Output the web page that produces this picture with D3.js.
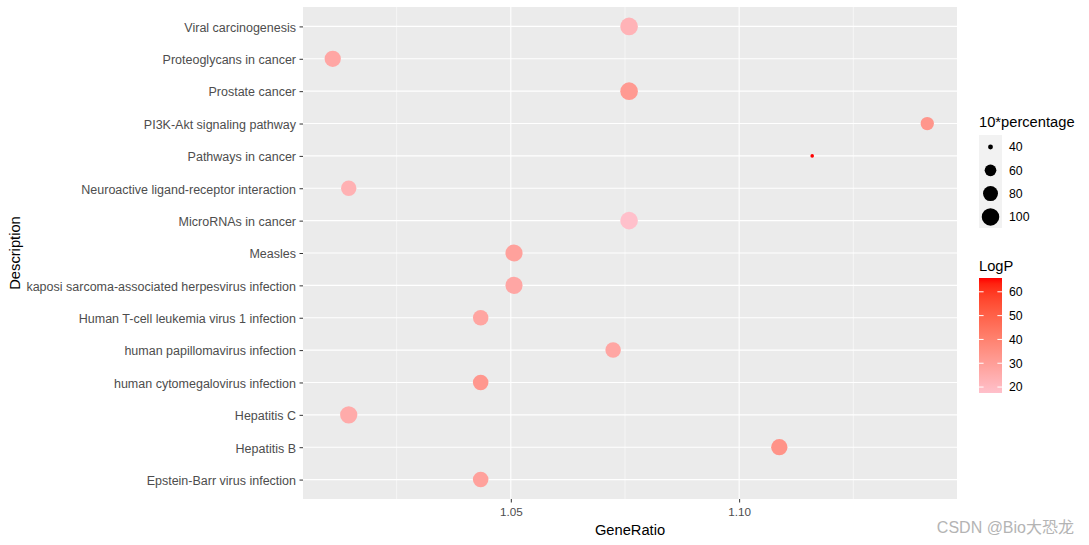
<!DOCTYPE html>
<html>
<head>
<meta charset="utf-8">
<script src="https://cdn.jsdelivr.net/npm/d3@7"></script>
<style>
    body { margin: 0; background: #fff; }
    svg { display: block; font-family: "Liberation Sans", Arial, sans-serif; }
</style>
</head>
<body>
<div id="chart"></div>
<script>
// Dados (de cima para baixo)
const descriptions = [
    'Viral carcinogenesis',
    'Proteoglycans in cancer',
    'Prostate cancer',
    'PI3K-Akt signaling pathway',
    'Pathways in cancer',
    'Neuroactive ligand-receptor interaction',
    'MicroRNAs in cancer',
    'Measles',
    'kaposi sarcoma-associated herpesvirus infection',
    'Human T-cell leukemia virus 1 infection',
    'human papillomavirus infection',
    'human cytomegalovirus infection',
    'Hepatitis C',
    'Hepatitis B',
    'Epstein-Barr virus infection'
];
const geneRatio = [1.0759, 1.0110, 1.0759, 1.1412, 1.1160, 1.0145, 1.0759, 1.0507, 1.0507, 1.0434, 1.0724, 1.0434, 1.0145, 1.1088, 1.0434];
const percentage10 = [101, 90, 101, 69, 39.5, 83, 101, 97, 97, 84, 84, 84, 98, 90, 84];
const logP = [22.3, 27, 31.5, 33, 65.8, 23.3, 17.5, 29, 27, 27.6, 27.2, 32.5, 25.5, 34, 29];

const xTicks = [1.05, 1.10];
const xMinorTicks = [1.025, 1.075, 1.125];
const sizeBreaks = [40, 60, 80, 100];
const colorBreaks = [20, 30, 40, 50, 60];

const data = descriptions.map((d, i) => ({
    desc: d, x: geneRatio[i], size: percentage10[i], logp: logP[i]
}));

const W = 1089, H = 545;
const panel = {left: 303, right: 957, top: 7, bottom: 499};

const svg = d3.select('#chart').append('svg')
    .attr('width', W).attr('height', H);

svg.append('rect').attr('width', W).attr('height', H).attr('fill', '#fff');

// Escalas
const xExt = d3.extent(geneRatio);
const pad = (xExt[1] - xExt[0]) * 0.05;
const x = d3.scaleLinear()
    .domain([xExt[0] - pad, xExt[1] + pad])
    .range([panel.left, panel.right]);

const y = d3.scalePoint()
    .domain(descriptions)
    .range([panel.top, panel.bottom])
    .padding(0.6);

const sExt = d3.extent(percentage10);
const sNorm = d3.scaleLinear().domain(sExt).range([0, 1]).clamp(true);
const rScale = d3.scaleLinear().domain([0, 1]).range([1.8, 8.8]);
const radius = v => rScale(Math.sqrt(sNorm(v)));

const cExt = d3.extent(logP);
const color = d3.scaleLinear()
    .domain(cExt)
    .range(['pink', 'red'])
    .interpolate(d3.interpolateLab);

// Painel
svg.append('rect')
    .attr('x', panel.left).attr('y', panel.top)
    .attr('width', panel.right - panel.left)
    .attr('height', panel.bottom - panel.top)
    .attr('fill', '#EBEBEB');

svg.append('g').selectAll('line')
    .data(xMinorTicks)
    .enter().append('line')
    .attr('x1', d => x(d)).attr('x2', d => x(d))
    .attr('y1', panel.top).attr('y2', panel.bottom)
    .attr('stroke', '#fff').attr('stroke-width', 0.55);

svg.append('g').selectAll('line')
    .data(xTicks)
    .enter().append('line')
    .attr('x1', d => x(d)).attr('x2', d => x(d))
    .attr('y1', panel.top).attr('y2', panel.bottom)
    .attr('stroke', '#fff').attr('stroke-width', 1.1);

svg.append('g').selectAll('line')
    .data(descriptions)
    .enter().append('line')
    .attr('x1', panel.left).attr('x2', panel.right)
    .attr('y1', d => y(d)).attr('y2', d => y(d))
    .attr('stroke', '#fff').attr('stroke-width', 1.1);

// Pontos
svg.append('g').selectAll('circle')
    .data(data)
    .enter().append('circle')
    .attr('cx', d => x(d.x))
    .attr('cy', d => y(d.desc))
    .attr('r', d => radius(d.size))
    .attr('fill', d => color(d.logp));

// Eixos
const xAxis = svg.append('g')
    .attr('transform', `translate(0,${panel.bottom})`)
    .call(d3.axisBottom(x).tickValues(xTicks).tickFormat(d3.format('.2f')).tickSize(3.5).tickSizeOuter(0));
xAxis.select('.domain').remove();
xAxis.selectAll('line').attr('stroke', '#333');
xAxis.selectAll('text')
    .attr('fill', '#4D4D4D')
    .attr('font-size', '11.7px')
    .attr('font-family', '"Liberation Sans", Arial, sans-serif')
    .attr('dy', '0.9em');

const yAxis = svg.append('g')
    .attr('transform', `translate(${panel.left},0.8)`)
    .call(d3.axisLeft(y).tickSize(3.5).tickSizeOuter(0));
yAxis.select('.domain').remove();
yAxis.selectAll('line').attr('stroke', '#333').attr('transform', 'translate(0,-0.8)');
yAxis.selectAll('text')
    .attr('fill', '#4D4D4D')
    .attr('font-size', '12.5px')
    .attr('font-family', '"Liberation Sans", Arial, sans-serif')
    .attr('x', -7);

svg.append('text')
    .attr('x', (panel.left + panel.right) / 2)
    .attr('y', 535)
    .attr('text-anchor', 'middle')
    .attr('font-size', '14.7px')
    .text('GeneRatio');

svg.append('text')
    .attr('transform', `translate(20,${(panel.top + panel.bottom) / 2}) rotate(-90)`)
    .attr('text-anchor', 'middle')
    .attr('font-size', '14.7px')
    .text('Description');

// Legenda de tamanho
const lx = 979;
svg.append('text')
    .attr('x', lx).attr('y', 127)
    .attr('font-size', '14.7px')
    .text('10*percentage');

const sizeLeg = svg.append('g').attr('transform', `translate(${lx},135)`);
sizeLeg.append('rect')
    .attr('width', 23).attr('height', 93)
    .attr('fill', '#F2F2F2');
const sItems = sizeLeg.selectAll('g')
    .data(sizeBreaks)
    .enter().append('g')
    .attr('transform', (d, i) => `translate(0,${12 + i * 23.3})`);
sItems.append('circle')
    .attr('cx', 11.5)
    .attr('r', d => radius(d))
    .attr('fill', '#000');
sItems.append('text')
    .attr('x', 30)
    .attr('dy', '0.35em')
    .attr('font-size', '12.3px')
    .text(d => d);

// Legenda de cor
svg.append('text')
    .attr('x', lx).attr('y', 271)
    .attr('font-size', '14.7px')
    .text('LogP');

const barTop = 278, barH = 115, barW = 23;
const cbar = d3.scaleLinear().domain(cExt).range([barTop + barH, barTop]);

const grad = svg.append('defs').append('linearGradient')
    .attr('id', 'logp-grad')
    .attr('x1', '0%').attr('y1', '100%')
    .attr('x2', '0%').attr('y2', '0%');
d3.range(0, 1.0001, 0.05).forEach(t => {
    grad.append('stop')
        .attr('offset', `${t * 100}%`)
        .attr('stop-color', color(cExt[0] + t * (cExt[1] - cExt[0])));
});

svg.append('rect')
    .attr('x', lx).attr('y', barTop)
    .attr('width', barW).attr('height', barH)
    .attr('fill', 'url(#logp-grad)');

const cTicks = svg.append('g').selectAll('g')
    .data(colorBreaks)
    .enter().append('g')
    .attr('transform', d => `translate(${lx},${cbar(d)})`);
cTicks.append('line')
    .attr('x1', 0).attr('x2', 4.6)
    .attr('stroke', '#fff').attr('stroke-width', 1);
cTicks.append('line')
    .attr('x1', barW - 4.6).attr('x2', barW)
    .attr('stroke', '#fff').attr('stroke-width', 1);
cTicks.append('text')
    .attr('x', 30)
    .attr('dy', '0.35em')
    .attr('font-size', '12.3px')
    .text(d => d);

// Marca d'água
svg.append('text')
    .attr('x', 1074).attr('y', 533)
    .attr('text-anchor', 'end')
    .attr('font-size', '16px')
    .attr('fill', '#B4B4B4')
    .attr('font-family', '"Liberation Sans", "Noto Sans CJK SC", sans-serif')
    .text('CSDN @Bio大恐龙');
</script>
</body>
</html>
